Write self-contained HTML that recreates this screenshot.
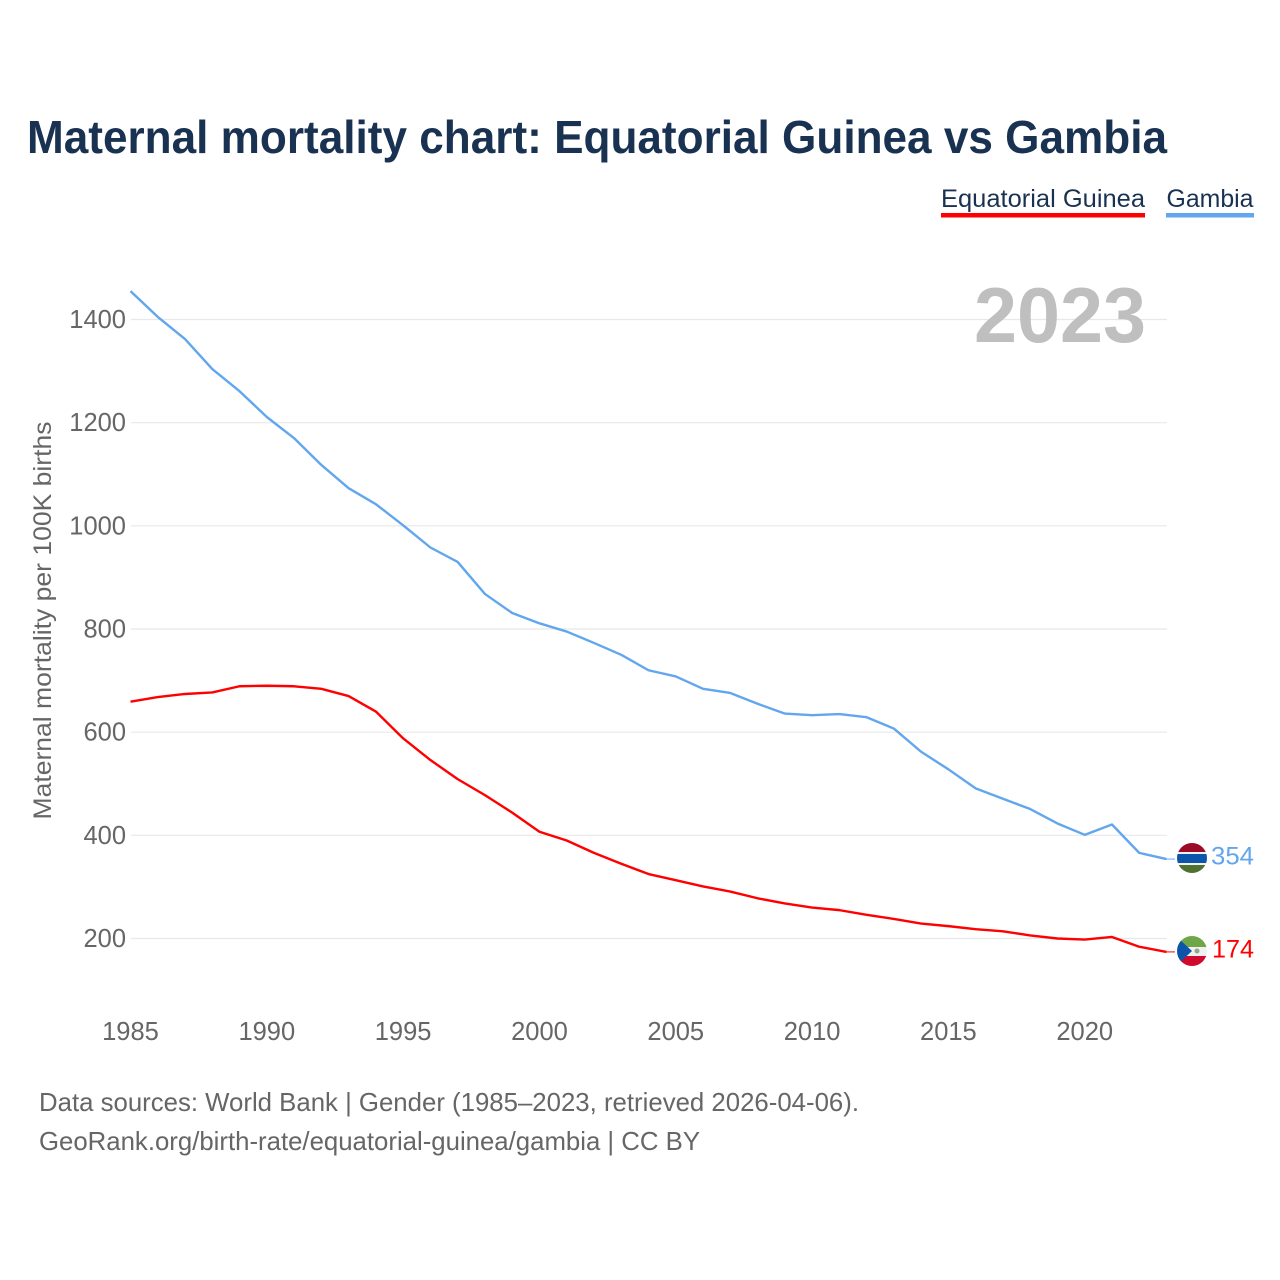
<!DOCTYPE html>
<html lang="en">
<head>
<meta charset="utf-8">
<title>Maternal mortality chart: Equatorial Guinea vs Gambia</title>
<style>
html,body{margin:0;padding:0;background:#fff;width:1280px;height:1280px;overflow:hidden}
svg{display:block}
text{font-family:"Liberation Sans",Carlito,sans-serif}
</style>
</head>
<body>
<svg id="chart" width="1280" height="1280" viewBox="0 0 1280 1280" xmlns="http://www.w3.org/2000/svg">
  <rect width="1280" height="1280" fill="#fff"/>
  <text x="27" y="153" font-size="46" font-weight="700" fill="#1a3252" textLength="1140" lengthAdjust="spacingAndGlyphs">Maternal mortality chart: Equatorial Guinea vs Gambia</text>

  <g>
    <text x="941" y="207" font-size="25" fill="#1a3252" textLength="204" lengthAdjust="spacingAndGlyphs">Equatorial Guinea</text>
    <rect x="941" y="213" width="204" height="4.500" fill="#ff0000"/>
  </g>
  <g>
    <text x="1166.500" y="207" font-size="25" fill="#1a3252" textLength="87" lengthAdjust="spacingAndGlyphs">Gambia</text>
    <rect x="1166" y="213" width="88" height="4.500" fill="#62a6ee"/>
  </g>

  <g id="grid"></g>
  <text x="1146" y="342" font-size="78" font-weight="700" fill="#bfbfbf" text-anchor="end" textLength="172" lengthAdjust="spacingAndGlyphs">2023</text>
  <g id="yticks"></g>
  <g id="xticks"></g>
  <text transform="translate(51 620.500) rotate(-90)" font-size="25" fill="#666" text-anchor="middle" textLength="398" lengthAdjust="spacingAndGlyphs">Maternal mortality per 100K births</text>

  <g id="series"></g>

  <defs>
    <clipPath id="clip-gambia"><circle cx="1192" cy="858" r="15"/></clipPath>
    <clipPath id="clip-eq"><circle cx="1192" cy="951" r="15"/></clipPath>
  </defs>
  <g clip-path="url(#clip-gambia)">
    <rect x="1177" y="843" width="30" height="10" fill="#9b0a27"/>
    <rect x="1177" y="852" width="30" height="2" fill="#f3f3f3"/>
    <rect x="1177" y="854" width="30" height="9" fill="#0c55ab"/>
    <rect x="1177" y="863" width="30" height="2" fill="#f3f3f3"/>
    <rect x="1177" y="865" width="30" height="9" fill="#4f7231"/>
  </g>
  <g clip-path="url(#clip-eq)">
    <rect x="1177" y="936" width="30" height="11" fill="#6fa648"/>
    <rect x="1177" y="947" width="30" height="9" fill="#f0f0f0"/>
    <rect x="1177" y="956" width="30" height="11" fill="#d2092f"/>
    <polygon points="1176,936 1192,951 1176,966" fill="#0c55ab"/>
    <circle cx="1197" cy="951" r="2.500" fill="#8fa888"/>
  </g>
  <text x="1211" y="864.500" font-size="25" fill="#62a6ee" textLength="43" lengthAdjust="spacingAndGlyphs">354</text>
  <text x="1212" y="957.500" font-size="25" fill="#ff0000" textLength="42" lengthAdjust="spacingAndGlyphs">174</text>

  <text x="39" y="1111" font-size="26" fill="#666" textLength="820" lengthAdjust="spacingAndGlyphs">Data sources: World Bank | Gender (1985–2023, retrieved 2026-04-06).</text>
  <text x="39" y="1150" font-size="26" fill="#666" textLength="661" lengthAdjust="spacingAndGlyphs">GeoRank.org/birth-rate/equatorial-guinea/gambia | CC BY</text>
</svg>
<script>
const years = [1985,1986,1987,1988,1989,1990,1991,1992,1993,1994,1995,1996,1997,1998,1999,2000,2001,2002,2003,2004,2005,2006,2007,2008,2009,2010,2011,2012,2013,2014,2015,2016,2017,2018,2019,2020,2021,2022,2023];
const gambia = [1455,1405,1362,1304,1261,1211,1170,1118,1073,1042,1001,958,930,868,831,811,795,773,750,720,708,684,676,655,636,633,635,629,607,562,528,491,471,451,423,401,421,366,354];
const equatorialGuinea = [659,668,674,677,689,690,689,684,670,640,588,546,509,478,444,407,390,366,345,325,313,301,291,278,268,260,255,246,238,229,224,218,214,206,200,198,203,184,174];
const yTickValues = [200,400,600,800,1000,1200,1400];
const xTickValues = [1985,1990,1995,2000,2005,2010,2015,2020];

const NS = 'http://www.w3.org/2000/svg';
const xScale = y => 130.5 + (y - 1985) * (1166.5 - 130.5) / 38;
const yScale = v => 938.5 - (v - 200) * 619 / 1200;

const grid = document.getElementById('grid');
const yticks = document.getElementById('yticks');
const xticks = document.getElementById('xticks');
const seriesGroup = document.getElementById('series');

yTickValues.forEach(v => {
  const l = document.createElementNS(NS, 'line');
  l.setAttribute('x1', 131);
  l.setAttribute('x2', 1167);
  l.setAttribute('y1', yScale(v));
  l.setAttribute('y2', yScale(v));
  l.setAttribute('stroke', '#e8e8e8');
  l.setAttribute('stroke-width', '1.2');
  
  
  grid.appendChild(l);
  const t = document.createElementNS(NS, 'text');
  t.setAttribute('x', 126);
  t.setAttribute('y', yScale(v) + 8.5);
  t.setAttribute('text-anchor', 'end');
  t.setAttribute('font-size', '25.5');
  t.setAttribute('fill', '#666');
  
  
  t.textContent = v;
  yticks.appendChild(t);
});

xTickValues.forEach(y => {
  const t = document.createElementNS(NS, 'text');
  t.setAttribute('x', xScale(y));
  t.setAttribute('y', 1040);
  t.setAttribute('text-anchor', 'middle');
  t.setAttribute('font-size', '25.5');
  t.setAttribute('fill', '#666');
  
  
  t.textContent = y;
  xticks.appendChild(t);
});

function drawLine(values, color, name) {
  const p = document.createElementNS(NS, 'polyline');
  p.setAttribute('points', values.map((v, i) => xScale(years[i]) + ',' + yScale(v)).join(' '));
  p.setAttribute('fill', 'none');
  p.setAttribute('stroke', color);
  p.setAttribute('stroke-width', '2.4');
  p.setAttribute('stroke-linejoin', 'round');
  
  
  seriesGroup.appendChild(p);
  const last = values[values.length - 1];
  const c = document.createElementNS(NS, 'line');
  c.setAttribute('x1', xScale(years[years.length - 1]));
  c.setAttribute('x2', 1175);
  c.setAttribute('y1', yScale(last));
  c.setAttribute('y2', yScale(last));
  c.setAttribute('stroke', color);
  c.setAttribute('stroke-width', '1');
  
  
  seriesGroup.appendChild(c);
}
drawLine(gambia, '#62a6ee', 'gambia-line');
drawLine(equatorialGuinea, '#ff0000', 'equatorial-guinea-line');
</script>
</body>
</html>
